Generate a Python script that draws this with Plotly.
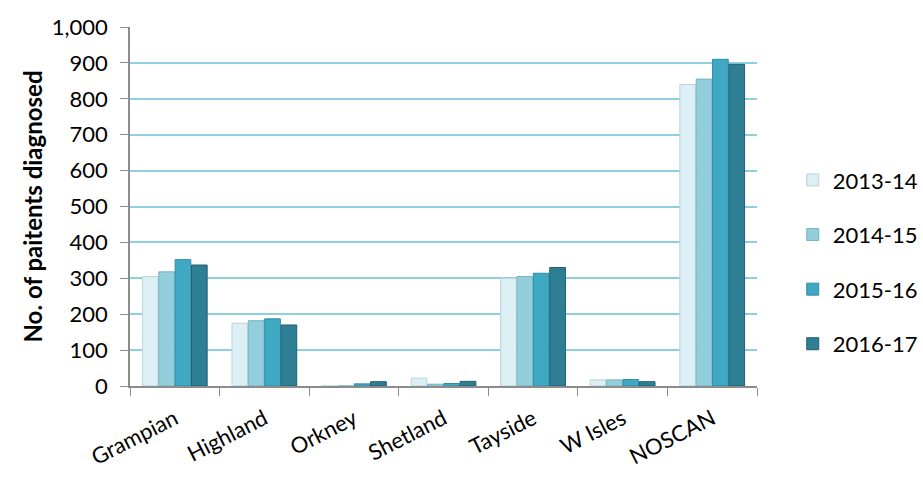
import plotly.graph_objects as go

# Patients diagnosed per NHS board area, by financial year
regions = ["Grampian", "Highland", "Orkney", "Shetland", "Tayside", "W Isles", "NOSCAN"]
years = ["2013-14", "2014-15", "2015-16", "2016-17"]
counts_2013_14 = [305, 175, 0, 22, 300, 17, 840]
counts_2014_15 = [318, 182, 0, 5, 305, 17, 855]
counts_2015_16 = [352, 187, 6, 7, 314, 18, 910]
counts_2016_17 = [337, 170, 12, 13, 330, 12, 896]
y_ticks = [0, 100, 200, 300, 400, 500, 600, 700, 800, 900, 1000]

series = [counts_2013_14, counts_2014_15, counts_2015_16, counts_2016_17]
fills = ["#dceff5", "#93cedc", "#3fa9c3", "#2f7f94"]
edges = ["#b9d3da", "#78b3c2", "#2f8ea6", "#215f70"]

fig = go.Figure()
for i, (name, vals) in enumerate(zip(years, series)):
    fig.add_trace(go.Bar(
        x=regions, y=vals, name=name,
        legendgroup=name,
        marker=dict(color=fills[i], line=dict(color=edges[i], width=1)),
    ))

font_family = "Lato, 'Open Sans', sans-serif"

fig.update_layout(
    width=923, height=480,
    margin=dict(l=130, r=166, t=27, b=94, autoexpand=False),
    paper_bgcolor="white", plot_bgcolor="white",
    barmode="group", bargap=0.27, bargroupgap=0.04,
    font=dict(family=font_family, size=22, color="#000"),
    showlegend=True,
    legend=dict(
        x=1.057, xanchor="left", y=0.345, yanchor="middle",
        font=dict(size=22), tracegroupgap=23, itemwidth=30,
        bgcolor="rgba(0,0,0,0)",
    ),
    yaxis=dict(
        range=[0, 1000], tickvals=y_ticks, tickformat=",",
        showgrid=True, gridcolor="#8fd0e0", gridwidth=2,
        zeroline=False, showline=True, linecolor="#8c8c8c", linewidth=1.5,
        ticks="outside", ticklen=8, tickcolor="#8c8c8c",
        tickfont=dict(size=22), ticklabelstandoff=8,
        title=dict(text="<b>No. of paitents diagnosed</b>", font=dict(size=24), standoff=2),
    ),
    xaxis=dict(
        showline=True, linecolor="#8c8c8c", linewidth=1.5,
        ticks="outside", ticklen=8, tickcolor="#8c8c8c", tickson="boundaries",
        tickangle=-27, tickfont=dict(size=22), ticklabelstandoff=10,
        showgrid=False,
    ),
)

fig.write_html("out.html")
